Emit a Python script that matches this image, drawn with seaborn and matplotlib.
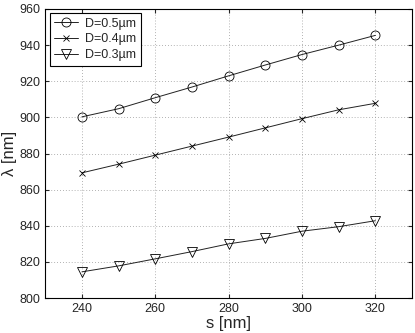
import numpy as np
import pandas as pd
import matplotlib
matplotlib.use("Agg")
import matplotlib.pyplot as plt
import seaborn as sns

# spacing s [nm]
s_values = [240, 250, 260, 270, 280, 290, 300, 310, 320]

# wavelength [nm] for each diameter
lam_d05 = [900.3, 904.8, 910.9, 916.8, 923.0, 929.0, 934.8, 940.0, 945.4]
lam_d04 = [869.3, 874.1, 879.1, 884.1, 889.1, 894.2, 899.3, 904.2, 907.8]
lam_d03 = [814.5, 817.8, 821.7, 825.7, 830.0, 833.0, 837.0, 839.5, 842.8]

series_labels = ["D=0.5\u00b5m", "D=0.4\u00b5m", "D=0.3\u00b5m"]
x_ticks = [240, 260, 280, 300, 320]
y_ticks = [800, 820, 840, 860, 880, 900, 920, 940, 960]

sns.set_style("white")
plt.rcParams["font.family"] = ["Liberation Sans", "DejaVu Sans"]

df = pd.DataFrame({
    "s": s_values * 3,
    "lam": lam_d05 + lam_d04 + lam_d03,
    "D": [series_labels[0]] * 9 + [series_labels[1]] * 9 + [series_labels[2]] * 9,
})

fig = plt.figure(figsize=(4.15, 3.33), dpi=100)
ax = fig.add_axes([0.109, 0.105, 0.884, 0.868])

markers = {"D=0.5\u00b5m": "o", "D=0.4\u00b5m": "x", "D=0.3\u00b5m": "v"}
sizes = {"D=0.5\u00b5m": 6.5, "D=0.4\u00b5m": 4.5, "D=0.3\u00b5m": 7}
for lab in series_labels:
    sub = df[df["D"] == lab]
    sns.lineplot(data=sub, x="s", y="lam", ax=ax, color="#222222", lw=0.7,
                 marker=markers[lab], markersize=sizes[lab],
                 markerfacecolor="none", markeredgecolor="black",
                 markeredgewidth=0.6, label=lab)

ax.set_xlim(230, 330)
ax.set_ylim(800, 960)
ax.set_xticks(x_ticks)
ax.set_yticks(y_ticks)
ax.grid(True, linestyle=(0, (1, 2.5)), color="#999999", lw=0.6)
for sp in ax.spines.values():
    sp.set_color("black")
    sp.set_linewidth(0.8)
ax.tick_params(labelsize=9, direction="in", length=3, left=True, bottom=True,
               right=True, top=True)
ax.set_xlabel("s [nm]", fontsize=12, labelpad=1)
ax.set_ylabel("\u03bb [nm]", fontsize=12, labelpad=2)

leg = ax.legend(loc="upper left", fontsize=9, frameon=True, fancybox=False,
                edgecolor="black", framealpha=1, handlelength=1.9,
                borderaxespad=0.35, labelspacing=0.3, borderpad=0.35,
                handletextpad=0.6)
leg.get_frame().set_linewidth(0.8)

fig.savefig("out.png", dpi=100)
